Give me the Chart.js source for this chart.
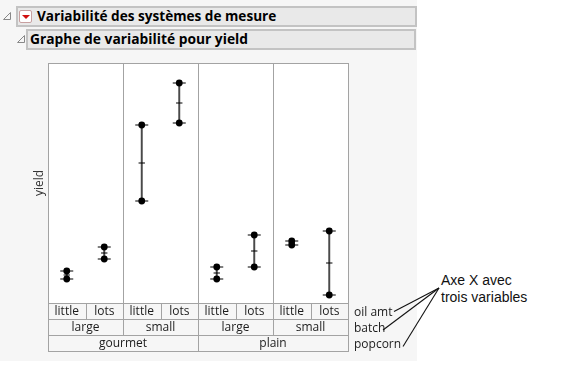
<!DOCTYPE html>
<html>
<head>
<meta charset="utf-8">
<script src="https://cdn.jsdelivr.net/npm/chart.js@4"></script>
<style>
  html, body { margin: 0; padding: 0; background: #ffffff; width: 577px; height: 371px; overflow: hidden; }
  #bg { position: absolute; left: 0; top: 0; width: 417px; height: 361px; background: #f6f6f6; }
  .box { position: absolute; background: #e9e9e9; border: 2px solid #c3c3c3; box-sizing: border-box;
         font-family: "Open Sans", "Noto Sans", sans-serif; font-weight: bold; color: #000; white-space: nowrap; }
  #h1 { left: 16px; top: 6px; width: 401px; height: 21px; font-size: 13.6px; line-height: 16px; padding-left: 19px; }
  #h2 { left: 26px; top: 29px; width: 390px; height: 21px; font-size: 13.8px; line-height: 16px; padding-left: 2px; }
  #btn { position: absolute; left: 19px; top: 10px; width: 13px; height: 13px; background: #fff; border: 1px solid #c8a0a0; box-sizing: border-box; border-radius: 2px; }
  #btn:after { content: ""; position: absolute; left: 2px; top: 4px; border-left: 4px solid transparent; border-right: 4px solid transparent; border-top: 4px solid #d01010; }
  #note { position: absolute; left: 441px; top: 272px; font-family: "Liberation Sans", Arial, sans-serif; font-size: 14px; line-height: 16.5px; color: #111; }
  canvas { position: absolute; left: 0; top: 0; }
</style>
</head>
<body>
<div id="bg"></div>
<svg style="position:absolute;left:0;top:0" width="40" height="50">
  <path d="M3.5 19.5 L10.5 12.5 L10.5 19.5 Z" fill="none" stroke="#888" stroke-width="1"/>
  <path d="M17.5 42.5 L24.5 35.5 L24.5 42.5 Z" fill="none" stroke="#888" stroke-width="1"/>
</svg>
<div class="box" id="h1">Variabilité des systèmes de mesure</div>
<div id="btn"></div>
<div class="box" id="h2">Graphe de variabilité pour yield</div>
<div id="note">Axe X avec<br>trois variables</div>
<canvas id="c" width="577" height="371"></canvas>
<script>
// ---- data ----
const oilAmt = ["little", "lots", "little", "lots", "little", "lots", "little", "lots"];
const batch = ["large", "small", "large", "small"];
const popcorn = ["gourmet", "plain"];
const tierNames = ["oil amt", "batch", "popcorn"];
const yieldRun1 = [8.6, 9.2, 12.1, 18.0, 8.2, 10.4, 9.9, 10.6];
const yieldRun2 = [8.2, 9.8, 15.9, 16.0, 8.8, 8.8, 10.1, 7.4];
const yAxisTitle = "yield";

const ranges = yieldRun1.map((v, i) => [Math.min(v, yieldRun2[i]), Math.max(v, yieldRun2[i])]);
const means = yieldRun1.map((v, i) => (v + yieldRun2[i]) / 2);

const GRID = "#a3a3a3";
const TXT = "#1c1c1c";
const ROWH = 16;

const tablePlugin = {
  id: "tablePlugin",
  beforeDatasetsDraw(chart) {
    const ctx = chart.ctx, a = chart.chartArea, x = chart.scales.x;
    ctx.save();
    ctx.fillStyle = "#ffffff";
    ctx.fillRect(a.left, a.top, a.right - a.left, a.bottom - a.top);
    ctx.strokeStyle = GRID; ctx.lineWidth = 1;
    const half = (x.getPixelForValue(1) - x.getPixelForValue(0)) / 2;
    for (let i = 2; i < oilAmt.length; i += 2) {
      const px = Math.round(x.getPixelForValue(i) - half) + 0.5;
      ctx.beginPath(); ctx.moveTo(px, a.top); ctx.lineTo(px, a.bottom); ctx.stroke();
    }
    ctx.strokeRect(Math.round(a.left) + 0.5, Math.round(a.top) + 0.5, Math.round(a.right - a.left), Math.round(a.bottom - a.top));
    ctx.restore();
  },
  afterDraw(chart) {
    const ctx = chart.ctx, a = chart.chartArea, x = chart.scales.x;
    const half = (x.getPixelForValue(1) - x.getPixelForValue(0)) / 2;
    const L = Math.round(a.left) + 0.5, R = Math.round(a.right) + 0.5;
    const top = Math.round(a.bottom) + 0.5;
    ctx.save();
    ctx.strokeStyle = GRID; ctx.lineWidth = 1;
    ctx.font = '12px "Open Sans", "Noto Sans", sans-serif';
    ctx.fillStyle = TXT; ctx.textAlign = "center"; ctx.textBaseline = "middle";
    const tiers = [oilAmt, batch, popcorn];
    tiers.forEach((labels, r) => {
      const y0 = top + r * ROWH, y1 = y0 + ROWH;
      ctx.strokeRect(L, y0, R - L, ROWH);
      const span = oilAmt.length / labels.length;
      labels.forEach((lab, j) => {
        const i0 = j * span, i1 = i0 + span - 1;
        const xl = x.getPixelForValue(i0) - half, xr = x.getPixelForValue(i1) + half;
        if (j > 0) {
          const px = Math.round(xl) + 0.5;
          ctx.beginPath(); ctx.moveTo(px, y0); ctx.lineTo(px, y1); ctx.stroke();
        }
        ctx.fillText(lab, (xl + xr) / 2, y0 + ROWH / 2 + 0.5);
      });
      ctx.textAlign = "left";
      ctx.fillText(tierNames[r], R + 5.5, y0 + ROWH / 2 + 1);
      ctx.textAlign = "center";
    });
    ctx.save();
    ctx.font = '12px "Open Sans", "Noto Sans", sans-serif';
    ctx.fillStyle = "#333";
    ctx.translate(40, (a.top + a.bottom) / 2);
    ctx.rotate(-Math.PI / 2);
    ctx.fillText(yAxisTitle, 0, 0);
    ctx.restore();
    ctx.strokeStyle = "#111"; ctx.lineWidth = 1.1;
    const hub = [439, 288];
    const ends = [[394, 311.5], [383, 330], [403, 346.5]];
    ends.forEach(e => { ctx.beginPath(); ctx.moveTo(hub[0], hub[1]); ctx.lineTo(e[0], e[1]); ctx.stroke(); });
    ctx.restore();
  }
};

new Chart(document.getElementById("c"), {
  data: {
    labels: oilAmt,
    datasets: [
      { type: "bar", data: ranges, backgroundColor: "#4a4a4a", barThickness: 1.3, order: 10, borderWidth: 0 },
      { type: "line", data: yieldRun1, showLine: false, pointStyle: "line", pointRadius: 6.5, borderColor: "#000", borderWidth: 1.2, order: 5 },
      { type: "line", data: yieldRun2, showLine: false, pointStyle: "line", pointRadius: 6.5, borderColor: "#000", borderWidth: 1.2, order: 5 },
      { type: "line", data: means, showLine: false, pointStyle: "line", pointRadius: 3.2, borderColor: "#000", borderWidth: 1.2, order: 5 },
      { type: "line", data: yieldRun1, showLine: false, pointStyle: "circle", pointRadius: 3.4, backgroundColor: "#000", borderColor: "#000", borderWidth: 0, order: 1 },
      { type: "line", data: yieldRun2, showLine: false, pointStyle: "circle", pointRadius: 3.4, backgroundColor: "#000", borderColor: "#000", borderWidth: 0, order: 1 }
    ]
  },
  options: {
    responsive: false,
    animation: false,
    events: [],
    layout: { padding: { left: 48, top: 63, right: 229, bottom: 68 } },
    plugins: { legend: { display: false }, tooltip: { enabled: false } },
    scales: {
      x: { type: "category", display: false, offset: true, grid: { offset: true } },
      y: { type: "linear", display: false, min: 7, max: 19 }
    }
  },
  plugins: [tablePlugin]
});
</script>
</body>
</html>
